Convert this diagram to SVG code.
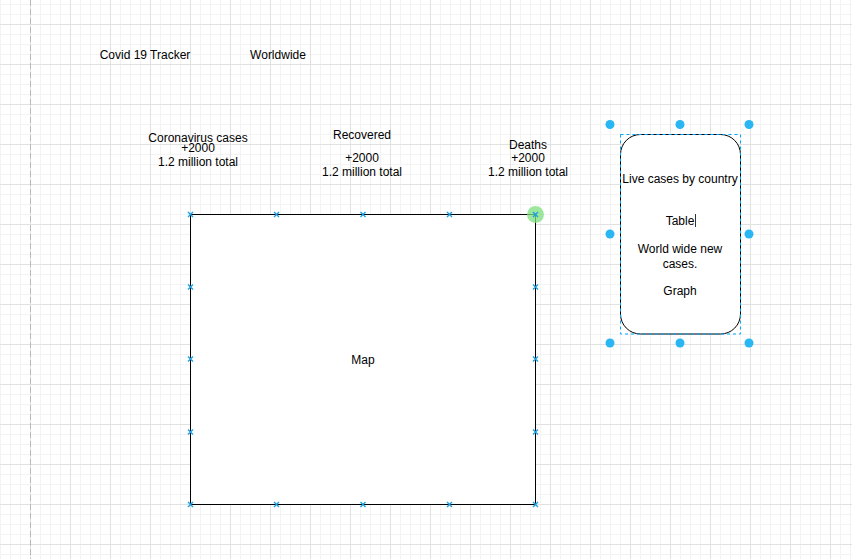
<svg xmlns="http://www.w3.org/2000/svg" width="852" height="559" viewBox="0 0 852 559">
  <style>
    text { font-family: "Liberation Sans", Arial, sans-serif; font-size: 12px; fill: #000; text-anchor: middle; }
    .minor { stroke: #f3f3f3; stroke-width: 1; }
    .major { stroke: #e1e1e1; stroke-width: 1; }
    .pt { stroke: #1e9fe0; stroke-width: 1.4; fill: none; }
    .handle { fill: #29b6f2; }
  </style>
  <defs>
    <pattern id="grid" patternUnits="userSpaceOnUse" x="30" y="24" width="40" height="40">
      <path class="minor" d="M10.5 0V40M20.5 0V40M30.5 0V40M0 10.5H40M0 20.5H40M0 30.5H40"/>
      <path class="major" d="M0.5 0V40M0 0.5H40"/>
    </pattern>
    <g id="x">
      <path class="pt" d="M-2.5 -2.5L2.5 2.5M-2.5 2.5L2.5 -2.5"/>
    </g>
  </defs>
  <rect width="852" height="559" fill="#ffffff"/>
  <rect width="852" height="559" fill="url(#grid)"/>
  <line x1="30.5" y1="0" x2="30.5" y2="559" stroke="#b8b8b8" stroke-dasharray="6 3"/>

  <g id="title">
    <text x="145" y="59">Covid 19 Tracker</text>
  </g>
  <g id="worldwide">
    <text x="278" y="59">Worldwide</text>
  </g>
  <g id="coronavirus-cases">
    <text x="198" y="141.5">Coronavirus cases</text>
    <text x="198" y="152">+2000</text>
    <text x="198" y="166">1.2 million total</text>
  </g>
  <g id="recovered">
    <text x="362" y="139">Recovered</text>
    <text x="362" y="161.5">+2000</text>
    <text x="362" y="176">1.2 million total</text>
  </g>
  <g id="deaths">
    <text x="528" y="149">Deaths</text>
    <text x="528" y="161.5">+2000</text>
    <text x="528" y="176">1.2 million total</text>
  </g>

  <g id="map">
    <rect x="190.5" y="214.5" width="345" height="290" fill="#ffffff" stroke="#000000" stroke-width="1"/>
    <text x="363" y="364">Map</text>
    <use href="#x" x="190.5" y="214.5"/>
    <use href="#x" x="276.5" y="214.5"/>
    <use href="#x" x="363" y="214.5"/>
    <use href="#x" x="449.5" y="214.5"/>
    <use href="#x" x="190.5" y="287"/>
    <use href="#x" x="190.5" y="359"/>
    <use href="#x" x="190.5" y="432"/>
    <use href="#x" x="535.5" y="287"/>
    <use href="#x" x="535.5" y="359"/>
    <use href="#x" x="535.5" y="432"/>
    <use href="#x" x="190.5" y="504.5"/>
    <use href="#x" x="276.5" y="504.5"/>
    <use href="#x" x="363" y="504.5"/>
    <use href="#x" x="449.5" y="504.5"/>
    <use href="#x" x="535.5" y="504.5"/>
    <circle cx="535.5" cy="214.5" r="8.5" fill="#7de07d" fill-opacity="0.75"/>
    <use href="#x" x="535.5" y="214.5"/>
  </g>

  <g id="live-cases-panel">
    <rect x="620.5" y="134.5" width="120" height="199.5" rx="20" ry="20" fill="#ffffff" stroke="#000000" stroke-width="1"/>
    <rect x="620.5" y="134.5" width="120" height="199.5" fill="none" stroke="#00a8ff" stroke-width="1" stroke-dasharray="3 3"/>
    <text x="680" y="183">Live cases by country</text>
    <text x="680" y="225">Table</text>
    <line x1="695.5" y1="214" x2="695.5" y2="227" stroke="#333333" stroke-width="1"/>
    <text x="680" y="253">World wide new</text>
    <text x="680" y="267.5">cases.</text>
    <text x="680" y="294.5">Graph</text>
    <circle class="handle" cx="610" cy="124.5" r="4.5"/>
    <circle class="handle" cx="680" cy="124.5" r="4.5"/>
    <circle class="handle" cx="749" cy="124.5" r="4.5"/>
    <circle class="handle" cx="610" cy="234" r="4.5"/>
    <circle class="handle" cx="749" cy="234" r="4.5"/>
    <circle class="handle" cx="610" cy="343" r="4.5"/>
    <circle class="handle" cx="680" cy="343" r="4.5"/>
    <circle class="handle" cx="749" cy="343" r="4.5"/>
  </g>

  <g id="connectors"></g>
</svg>
